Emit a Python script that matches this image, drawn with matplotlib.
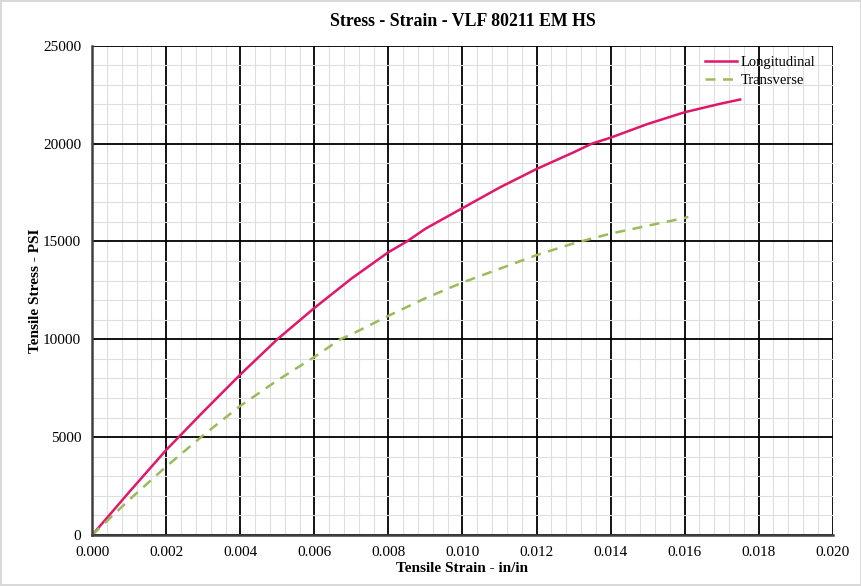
import numpy as np
import matplotlib
matplotlib.use("Agg")
import matplotlib.pyplot as plt
from matplotlib.ticker import MultipleLocator, FormatStrFormatter

plt.rcParams['font.family'] = ['Liberation Serif', 'DejaVu Serif']

# strain (in/in) and stress (psi)
long_strain = [0.0, 0.001, 0.002, 0.003, 0.004, 0.005, 0.006, 0.007, 0.008, 0.0085,
               0.009, 0.010, 0.011, 0.012, 0.013, 0.0135, 0.014, 0.015, 0.016, 0.017, 0.0175]
long_stress = [0, 2200, 4350, 6300, 8200, 10000, 11600, 13100, 14450, 15000,
               15650, 16700, 17750, 18700, 19550, 20000, 20300, 21000, 21600, 22050, 22250]

trans_strain = [0.0, 0.001, 0.002, 0.003, 0.004, 0.005, 0.006, 0.0067, 0.007, 0.008,
                0.009, 0.010, 0.011, 0.012, 0.013, 0.014, 0.015, 0.016, 0.0161]
trans_stress = [0, 1800, 3500, 5100, 6600, 7900, 9100, 10000, 10250, 11200,
                12100, 12900, 13600, 14300, 14900, 15400, 15800, 16200, 16250]

fig = plt.figure(figsize=(8.62, 5.86), dpi=100)
fig.patch.set_edgecolor('#d9d9d9')
fig.patch.set_linewidth(1.5)
ax = fig.add_axes([0.107, 0.087, 0.859, 0.835])

ax.plot(long_strain, long_stress, color='#E0176A', lw=1.8, label='Longitudinal')
ax.plot(trans_strain, trans_stress, color='#9BBB59', lw=1.8, ls=(0, (4, 3)), label='Transverse')

ax.set_xlim(0, 0.020)
ax.set_ylim(0, 25000)
ax.xaxis.set_major_locator(MultipleLocator(0.002))
ax.xaxis.set_minor_locator(MultipleLocator(0.0004))
ax.yaxis.set_major_locator(MultipleLocator(5000))
ax.yaxis.set_minor_locator(MultipleLocator(1000))
ax.xaxis.set_major_formatter(FormatStrFormatter('%.3f'))

ax.grid(which='minor', color='#dedede', lw=0.8)
ax.grid(which='major', color='black', lw=1.3)
ax.set_axisbelow(True)
ax.tick_params(which='both', length=0, labelsize=11, pad=8)
for side in ['top', 'right']:
    ax.spines[side].set_visible(False)
for side in ['bottom', 'left']:
    ax.spines[side].set_color('#404040')
    ax.spines[side].set_linewidth(1.8)

ax.set_title('Stress - Strain - VLF 80211 EM HS', fontsize=12.8, fontweight='bold', pad=14)
ax.set_xlabel('Tensile Strain - in/in', fontsize=11, fontweight='bold', labelpad=2)
ax.set_ylabel('Tensile Stress - PSI', fontsize=11, fontweight='bold', labelpad=1)

ax.legend(loc='upper right', frameon=False, fontsize=10.5, handlelength=2.2,
          handletextpad=0.2, borderaxespad=0.3, labelspacing=0.35,
          bbox_to_anchor=(0.99, 1.0))

fig.savefig('out.png', dpi=100)
